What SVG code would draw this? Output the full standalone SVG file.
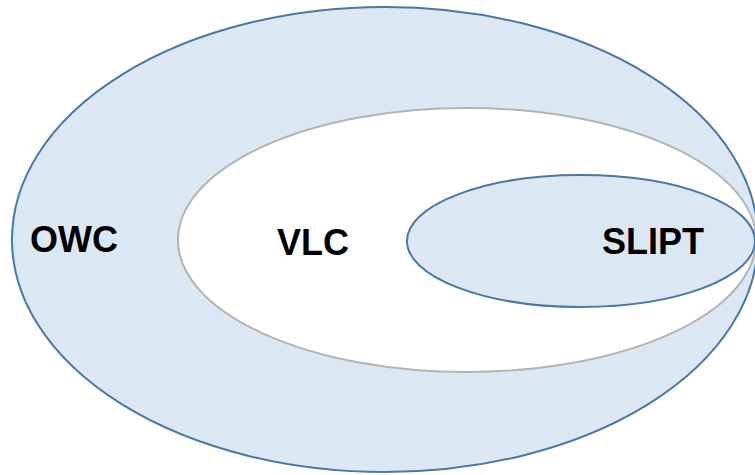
<svg xmlns="http://www.w3.org/2000/svg" width="755" height="475" viewBox="0 0 755 475">
  <style>
    .blue { fill: #dce7f4; stroke: #4a77a3; stroke-width: 2; }
    .inner { fill: #ffffff; stroke: #b3b3b3; stroke-width: 2; }
    .label { font-family: "Liberation Sans", Arial, sans-serif; font-weight: bold; font-size: 36px; fill: #000000; }
  </style>
  <rect width="755" height="475" fill="#ffffff"/>
  <g id="owc">
    <ellipse class="blue" cx="385" cy="239.5" rx="373" ry="232.5"/>
    <text class="label" x="30" y="252">OWC</text>
  </g>
  <g id="vlc">
    <ellipse class="inner" cx="467" cy="240" rx="289" ry="132"/>
    <text class="label" x="277" y="255">VLC</text>
  </g>
  <g id="slipt">
    <ellipse class="blue" cx="581" cy="241" rx="174" ry="66"/>
    <text class="label" x="602" y="254">SLIPT</text>
  </g>
  <g id="connectors"/>
</svg>
